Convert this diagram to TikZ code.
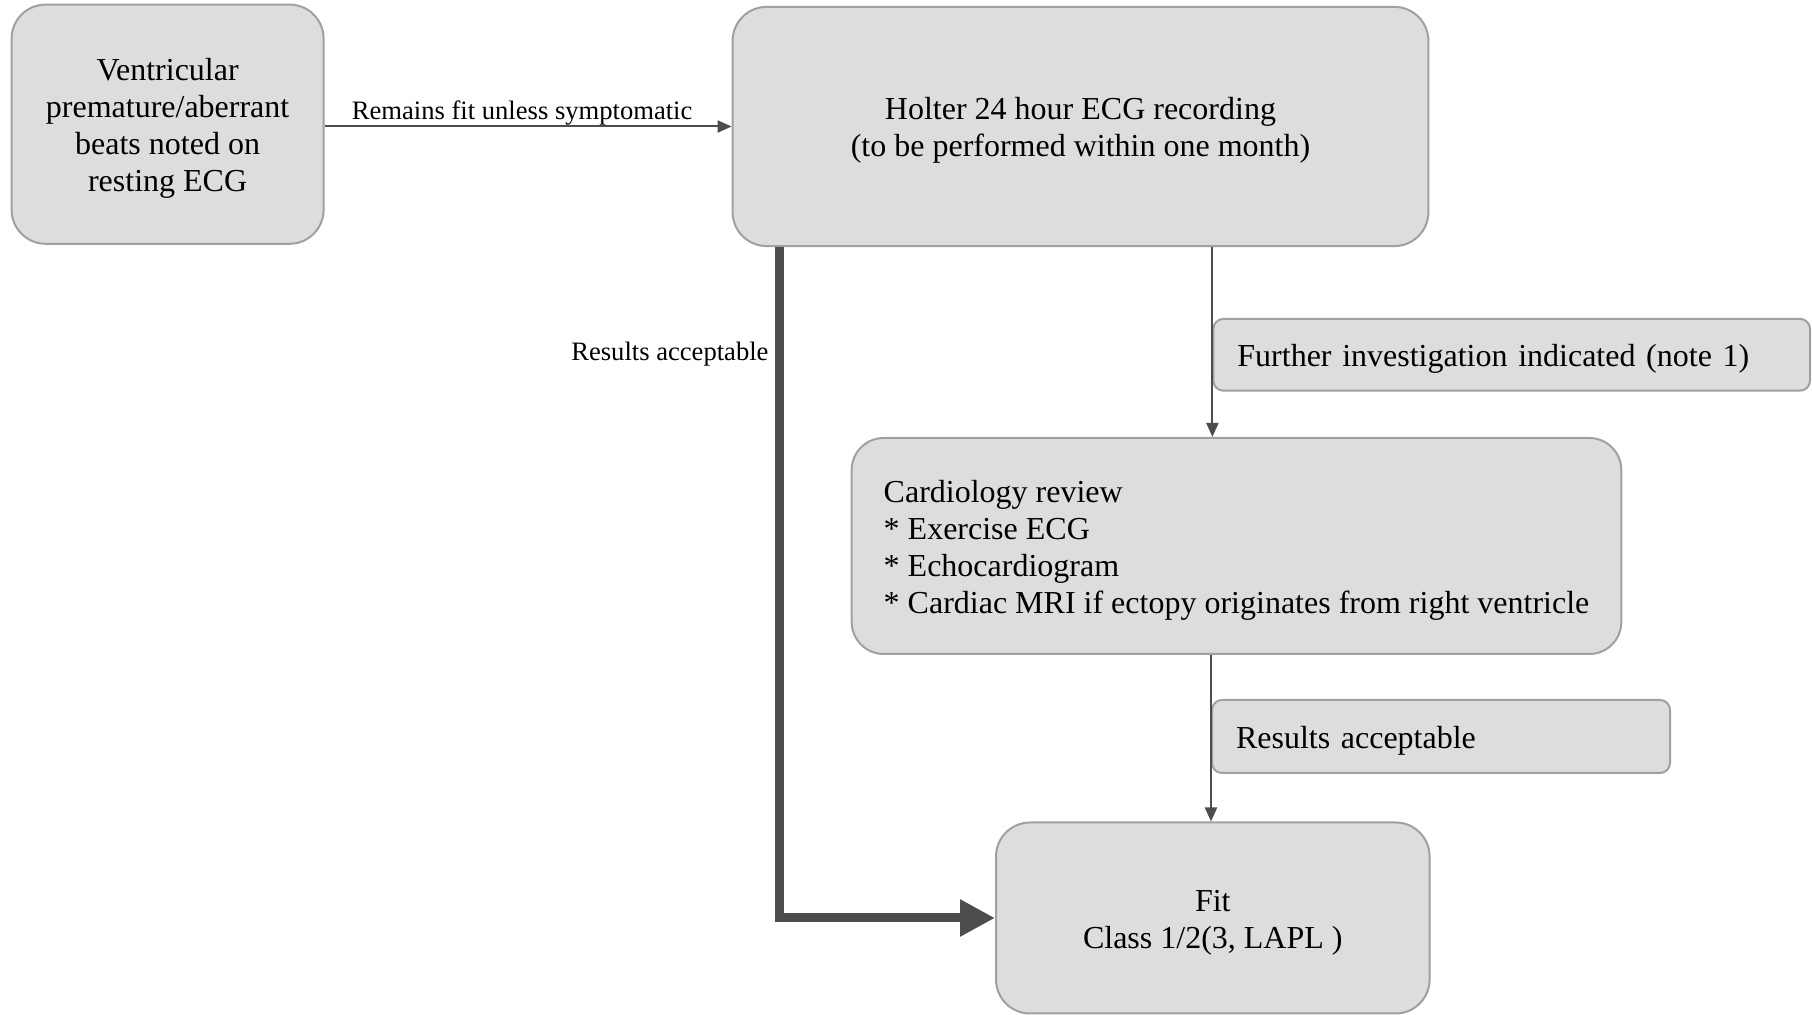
\documentclass[tikz,border=0pt]{standalone}
\usepackage{fontspec}
\setmainfont{Liberation Serif}
\usetikzlibrary{arrows.meta}
\definecolor{boxfill}{RGB}{221,221,221}
\definecolor{boxline}{RGB}{160,160,160}
\definecolor{arrowcol}{RGB}{77,77,77}
% taller first line, so the text block sits a little lower in its box
\newcommand\firstline{\rule{0pt}{15pt}}
\begin{document}
\begin{tikzpicture}[x=0.5pt,y=-0.5pt,
  box/.style={draw=boxline, fill=boxfill, line width=1pt, rounded corners=#1,
    font=\fontsize{16}{18.5}\selectfont, inner sep=0pt},
  box/.default=17pt,
  smalltext/.style={font=\fontsize{13.3}{15.5}\selectfont},
  link/.style={draw=arrowcol, line width=1pt, -{Triangle[length=7pt,width=6pt]}},
  bigarrow/.style={draw=arrowcol, line width=4.5pt, line join=miter,
    -{Triangle[length=17.5pt,width=17.5pt]}}]
\useasboundingbox (0,0) rectangle (1812,1015);

% boxes
\node[box, minimum width=156pt, minimum height=119.6pt, align=center] (A) at (167.6,124.2)
  {\firstline Ventricular\\premature/aberrant\\beats noted on\\resting ECG};
\node[box, minimum width=347.9pt, minimum height=119.6pt, align=center] (B) at (1080.5,126.5)
  {\firstline Holter 24 hour ECG recording\\(to be performed within one month)};
\node[box=5pt, minimum width=298.3pt, minimum height=35.9pt, inner xsep=12pt,
  text width=274.3pt, align=left] (FI) at (1511.7,354.8)
  {\firstline Further investigation indicated (note 1)};
\node[box=16pt, minimum width=384.8pt, minimum height=108pt, align=left] (C) at (1236.5,546)
  {\firstline Cardiology review\\* Exercise ECG\\* Echocardiogram\\* Cardiac MRI if ectopy originates from right ventricle};
\node[box=5pt, minimum width=229pt, minimum height=36.5pt, inner xsep=12pt,
  text width=205pt, align=left] (RA) at (1441,736.5)
  {\firstline Results acceptable};
\node[box, minimum width=216.8pt, minimum height=95.5pt, align=center] (F) at (1212.8,918)
  {\firstline Fit\\Class 1/2(3, LAPL )};

% connectors
\draw[link] (A.east |- B.west) -- node[above, xshift=-3pt, smalltext, inner sep=0pt]
  {Remains fit unless symptomatic} (B.west);
\draw[bigarrow] ([xshift=23.7pt]B.south west) |- node[pos=0.077, left=0.5pt, yshift=-2pt, smalltext, inner sep=2.5pt]
  {Results acceptable} (F.west);
\draw[link] (FI.west |- B.south) -- (FI.west |- C.north);
\draw[link] (RA.west |- C.south) -- (RA.west |- F.north);
\end{tikzpicture}
\end{document}
